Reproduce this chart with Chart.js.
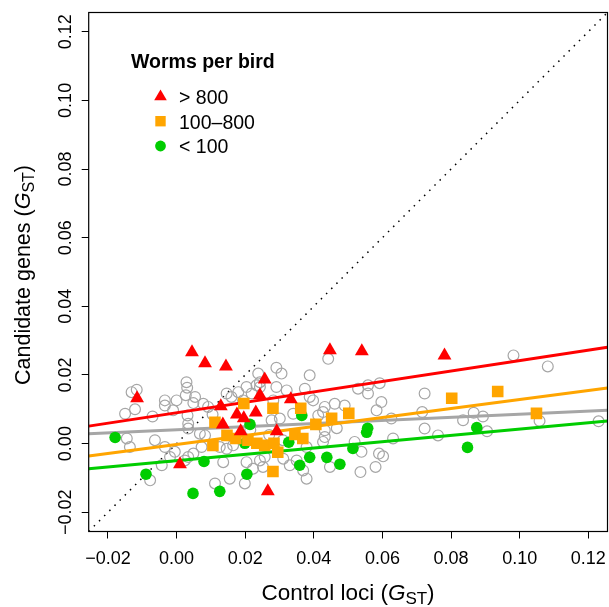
<!DOCTYPE html>
<html><head><meta charset="utf-8">
<script src="https://cdn.jsdelivr.net/npm/chart.js@4.4.1/dist/chart.umd.min.js"></script>
<style>html,body{margin:0;padding:0;background:#fff;}#wrap{width:609px;height:607px;}</style>
</head><body><div id="wrap"><canvas id="c" width="609" height="607"></canvas></div>
<script>
// ---- data ----
const axisMin = -0.0256, axisMax = 0.1256;
const tickValues = [-0.02, 0, 0.02, 0.04, 0.06, 0.08, 0.10, 0.12];
const legendTitle = 'Worms per bird';
const seriesNames = ['> 800', '100\u2013800', '< 100'];
const xTitle = ['Control loci (', 'G', 'ST', ')'];
const yTitle = ['Candidate genes (', 'G', 'ST', ')'];

const highX = [0.0045, 0.0083, 0.0144, -0.0115, 0.0129, 0.0176, 0.0196, 0.0231, 0.0257, 0.0243, 0.0333, 0.0187, 0.0292, 0.0010, 0.0266, 0.0447, 0.0540, 0.0781, 0.0135];
const highY = [0.0266, 0.0234, 0.0225, 0.0132, 0.0109, 0.0085, 0.0074, 0.0091, 0.0187, 0.0141, 0.0129, 0.0036, 0.0036, -0.0060, -0.0139, 0.0272, 0.0269, 0.0257, 0.0056];

const midX = [0.0112, 0.0106, 0.0147, 0.0196, 0.0281, 0.0362, 0.0173, 0.0208, 0.0234, 0.0257, 0.0284, 0.0295, 0.0345, 0.0368, 0.0406, 0.0281, 0.0452, 0.0502, 0.0802, 0.0936, 0.1049];
const midY = [0.0062, -0.0005, 0.0024, 0.0117, 0.0103, 0.0103, 0.0015, 0.0010, 0.0001, -0.0005, 0.0001, -0.0025, 0.0027, 0.0015, 0.0056, -0.0081, 0.0074, 0.0088, 0.0132, 0.0152, 0.0088];

const lowX = [-0.0179, -0.0089, 0.0048, 0.0126, 0.0080, 0.0205, 0.0199, 0.0214, 0.0365, 0.0327, 0.0359, 0.0388, 0.0438, 0.0476, 0.0514, 0.0557, 0.0554, 0.0875, 0.0848];
const lowY = [0.0018, -0.0089, -0.0145, -0.0139, -0.0052, -0.0089, 0.0001, 0.0056, 0.0082, 0.0004, -0.0063, -0.0040, -0.0040, -0.0060, -0.0014, 0.0045, 0.0033, 0.0047, -0.0011];

const controlX = [0.0029, 0.0031, -0.0116, -0.0131, -0.0034, 0.0000, 0.0027, 0.0054, 0.0049, -0.0150, -0.0121, -0.0070, -0.0034, -0.0010, 0.0032, 0.0034, 0.0034, 0.0068, 0.0083, -0.0145, -0.0136, -0.0063, -0.0005, -0.0043, 0.0049, -0.0077, 0.0112, 0.0136, 0.0146, 0.0199, 0.0223, 0.0233, -0.0019, 0.0034, 0.0291, 0.0306, 0.0388, 0.0238, 0.0078, 0.0092, 0.0146, 0.0160, 0.0204, 0.0219, 0.0180, 0.0282, 0.0398, 0.0432, 0.0413, 0.0432, 0.0432, 0.0379, 0.0350, 0.0369, 0.0379, 0.0330, 0.0155, 0.0243, 0.0311, 0.0291, 0.0321, -0.0034, 0.0024, 0.0073, 0.0126, 0.0165, 0.0442, 0.0243, 0.0243, 0.0374, 0.0388, 0.0194, 0.0558, 0.0592, 0.0558, 0.0597, 0.0529, 0.0490, 0.0427, 0.0583, 0.0626, 0.0631, 0.0519, 0.0539, 0.0590, 0.0602, 0.0580, 0.0536, 0.0447, 0.0277, 0.0301, 0.0340, 0.0257, 0.0204, 0.0252, 0.0467, 0.0461, 0.0723, 0.0723, 0.0427, 0.0982, 0.1082, 0.0716, 0.0762, 0.0835, 0.0866, 0.0893, 0.0905, 0.1058, 0.1230, 0.0215, 0.0270, 0.0105, 0.0310];
const controlY = [0.0179, 0.0163, 0.0157, 0.0150, 0.0126, 0.0126, 0.0141, 0.0136, 0.0118, 0.0087, 0.0100, 0.0079, 0.0111, 0.0097, 0.0082, 0.0058, 0.0044, 0.0029, 0.0024, 0.0015, -0.0010, 0.0010, -0.0024, -0.0063, -0.0029, -0.0107, -0.0116, -0.0054, -0.0015, -0.0116, -0.0073, 0.0170, -0.0039, -0.0039, 0.0221, 0.0204, 0.0199, 0.0204, 0.0116, 0.0107, 0.0146, 0.0136, 0.0165, 0.0146, 0.0150, 0.0126, 0.0126, 0.0107, 0.0082, 0.0039, 0.0019, -0.0010, -0.0049, -0.0078, -0.0102, -0.0063, -0.0102, -0.0049, -0.0044, 0.0165, 0.0155, -0.0010, -0.0049, -0.0010, -0.0010, -0.0005, 0.0247, 0.0179, 0.0165, 0.0160, 0.0136, 0.0126, 0.0170, 0.0176, 0.0146, 0.0121, 0.0160, 0.0111, 0.0092, 0.0097, 0.0073, 0.0015, 0.0005, -0.0024, -0.0029, -0.0037, -0.0068, -0.0083, -0.0068, 0.0068, 0.0073, 0.0087, -0.0039, -0.0054, -0.0068, 0.0045, 0.0116, 0.0146, 0.0044, 0.0005, 0.0257, 0.0225, 0.0092, 0.0024, 0.0068, 0.0090, 0.0079, 0.0036, 0.0066, 0.0065, 0.0040, 0.0025, 0.0085, 0.0010];

// fitted lines: values at the left and right ends of the axis
const fitEndsX = [axisMin, axisMax];
const highFit = [0.0051, 0.0281];
const midFit = [-0.0036, 0.0162];
const allFit = [0.0029, 0.0097];
const lowFit = [-0.0073, 0.0066];
const identityEnds = [axisMin, axisMax];

// ---- styling ----
const RED = '#FF0000', ORANGE = '#FFA500', GREEN = '#00CD00', GREY = '#A6A6A6';
const FONT = '"Liberation Sans", Arial, Helvetica, sans-serif';

const pts = (xs, ys) => xs.map((x, i) => ({x, y: ys[i]}));
const fmt = v => { const s = Math.abs(v).toFixed(2); return (v < -1e-9 ? '\u2212' : '') + s; };

function drawRich(ctx, parts, size) {
  const specs = [
    {t: parts[0], f: `${size}px ${FONT}`, dy: 0},
    {t: parts[1], f: `italic ${size}px ${FONT}`, dy: 0},
    {t: parts[2], f: `${Math.round(size * 0.75)}px ${FONT}`, dy: size * 0.22},
    {t: parts[3], f: `${size}px ${FONT}`, dy: 0}
  ];
  let w = 0;
  specs.forEach(s => { ctx.font = s.f; s.w = ctx.measureText(s.t).width; w += s.w; });
  let x = -w / 2;
  specs.forEach(s => { ctx.font = s.f; ctx.fillText(s.t, x, s.dy); x += s.w; });
}

const decor = {
  id: 'decor',
  afterDraw(chart) {
    const {ctx, chartArea: a} = chart;
    ctx.save();
    ctx.strokeStyle = '#000'; ctx.lineWidth = 1.2;
    ctx.strokeRect(a.left, a.top, a.right - a.left, a.bottom - a.top);
    ctx.fillStyle = '#000'; ctx.textAlign = 'left'; ctx.textBaseline = 'alphabetic';
    ctx.save(); ctx.translate((a.left + a.right) / 2, 599.5); drawRich(ctx, xTitle, 22.5); ctx.restore();
    ctx.save(); ctx.translate(29.5, (a.top + a.bottom) / 2 + 3); ctx.rotate(-Math.PI / 2); drawRich(ctx, yTitle, 21.5); ctx.restore();
    ctx.font = `bold 19.5px ${FONT}`;
    ctx.fillText(legendTitle, 131, 68);
    ctx.font = `19.5px ${FONT}`;
    const rows = [104.3, 129, 153.3];
    seriesNames.forEach((n, i) => ctx.fillText(n, 179, rows[i]));
    const mx = 160.5;
    ctx.fillStyle = RED; ctx.beginPath();
    ctx.moveTo(mx, 89.5); ctx.lineTo(mx + 6.3, 100.3); ctx.lineTo(mx - 6.3, 100.3); ctx.closePath(); ctx.fill();
    ctx.fillStyle = ORANGE; ctx.fillRect(mx - 5.2, 116, 10.4, 10.4);
    ctx.fillStyle = GREEN; ctx.beginPath(); ctx.arc(mx, 146, 5.4, 0, Math.PI * 2); ctx.fill();
    ctx.restore();
  }
};

const lineDs = (ys, color, order) => ({
  data: pts(fitEndsX, ys), showLine: true, borderColor: color, borderWidth: 3,
  pointRadius: 0, fill: false, order
});

new Chart(document.getElementById('c'), {
  type: 'scatter',
  data: {
    datasets: [
      {label: seriesNames[0], data: pts(highX, highY), pointStyle: 'triangle', pointRadius: 8, backgroundColor: RED, borderWidth: 0, order: 0},
      {label: seriesNames[1], data: pts(midX, midY), pointStyle: 'rect', pointRadius: 8.2, backgroundColor: ORANGE, borderWidth: 0, order: 1},
      {label: seriesNames[2], data: pts(lowX, lowY), pointStyle: 'circle', pointRadius: 5.8, backgroundColor: GREEN, borderWidth: 0, order: 2},
      lineDs(highFit, RED, 5),
      lineDs(midFit, ORANGE, 6),
      lineDs(allFit, GREY, 7),
      lineDs(lowFit, GREEN, 8),
      {label: 'control', data: pts(controlX, controlY), pointStyle: 'circle', pointRadius: 5.4, backgroundColor: 'rgba(0,0,0,0)', borderColor: GREY, borderWidth: 1.2, order: 10},
      {label: 'identity', data: pts(identityEnds, identityEnds), showLine: true, borderColor: '#000', borderWidth: 1.5, borderDash: [1.5, 5.8], pointRadius: 0, order: 11}
    ]
  },
  options: {
    responsive: false, animation: false, devicePixelRatio: 1,
    layout: {autoPadding: false, padding: {left: 0, right: 1.5, top: 12.5, bottom: 0}},
    plugins: {legend: {display: false}, tooltip: {enabled: false}},
    scales: {
      x: {
        type: 'linear', min: axisMin, max: axisMax,
        afterBuildTicks: s => { s.ticks = tickValues.map(v => ({value: v})); },
        afterFit: s => { s.height = 75.5; s.paddingLeft = 0; s.paddingRight = 0; },
        grid: {display: true, drawOnChartArea: false, drawTicks: true, tickLength: 7, color: '#000', lineWidth: 1},
        border: {display: false},
        ticks: {color: '#000', font: {family: FONT, size: 18}, padding: 10, autoSkip: false, maxRotation: 0, callback: fmt}
      },
      y: {
        type: 'linear', min: axisMin, max: axisMax,
        afterBuildTicks: s => { s.ticks = tickValues.map(v => ({value: v})); },
        afterFit: s => { s.width = 88.7; s.paddingTop = 0; s.paddingBottom = 0; },
        grid: {display: true, drawOnChartArea: false, drawTicks: true, tickLength: 7, color: '#000', lineWidth: 1},
        border: {display: false},
        ticks: {color: '#000', font: {family: FONT, size: 18}, padding: -7, autoSkip: false, minRotation: 90, maxRotation: 90, crossAlign: 'center', callback: fmt}
      }
    }
  },
  plugins: [decor]
});
</script></body></html>
